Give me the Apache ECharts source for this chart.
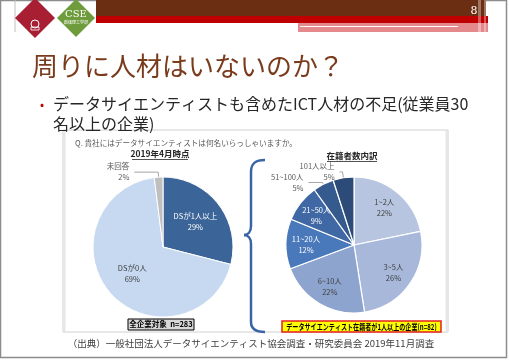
<!DOCTYPE html>
<html>
<head>
<meta charset="utf-8">
<script src="https://cdn.jsdelivr.net/npm/echarts@6/dist/echarts.min.js"></script>
<style>
html,body{margin:0;padding:0;background:#fff;}
#c{width:509px;height:360px;}
</style>
</head>
<body>
<div id="c"></div>
<script>
// ---- data ----
const leftCategories = ['DSが1人以上', 'DSが0人', '未回答'];
const leftValues = [29, 69, 2];
const rightCategories = ['1~2人', '3~5人', '6~10人', '11~20人', '21~50人', '51~100人', '101人以上'];
const rightValues = [22, 26, 22, 12, 9, 5, 5];
const leftColors = ['#3B6598', '#C6D9F0', '#BFBFBF'];
const rightColors = ['#B8C5E0', '#A7B8DA', '#8DA4CF', '#4A79BB', '#3F68A4', '#355A8E', '#2C4B78'];
const leftLabelColors = ['#ffffff', '#404040', '#595959'];
const rightLabelColors = ['#404040', '#404040', '#404040', '#ffffff', '#ffffff', '#595959', '#595959'];
const leftOutside = [false, false, true];
const rightOutside = [false, false, false, false, false, true, true];

const FONT = '"Noto Sans CJK JP", "Noto Sans", sans-serif';

const chart = echarts.init(document.getElementById('c'), null, {renderer: 'canvas'});

function mainData(cats, vals, colors, outside, lblColors, lineLens) {
  return cats.map((n, i) => ({
    name: n, value: vals[i],
    itemStyle: {color: colors[i]},
    label: outside[i] ? {show: true, position: 'outside', color: lblColors[i]} : {show: false},
    labelLine: outside[i] ? {show: true, length: lineLens[i][0], length2: lineLens[i][1]} : {show: false}
  }));
}
function labelData(cats, vals, outside, lblColors) {
  return cats.map((n, i) => ({
    name: n, value: vals[i],
    label: {show: !outside[i], color: lblColors[i]}
  }));
}
const lblStyle = {fontSize: 7.5, lineHeight: 11, fontFamily: FONT, formatter: '{b}\n{c}%'};

const LC = [163, 247], LR = 70;
const RC = [354, 245], RR = 68;

const BR = '#3B64A6';
function bz(x1, y1, c1x, c1y, c2x, c2y, x2, y2) {
  return {type: 'bezierCurve', z: 3, shape: {x1: x1, y1: y1, cpx1: c1x, cpy1: c1y, cpx2: c2x, cpy2: c2y, x2: x2, y2: y2}, style: {fill: 'none', stroke: BR, lineWidth: 2.5}};
}
function ln(x1, y1, x2, y2) {
  return {type: 'line', z: 3, shape: {x1: x1, y1: y1, x2: x2, y2: y2}, style: {stroke: BR, lineWidth: 2.5}};
}

const option = {
  backgroundColor: '#ffffff',
  animation: false,
  series: [
    {
      type: 'pie', center: LC, radius: [0, LR], startAngle: 90, clockwise: true,
      avoidLabelOverlap: false, silent: true, labelLayout: {hideOverlap: false},
      itemStyle: {borderColor: '#ffffff', borderWidth: 1},
      label: Object.assign({}, lblStyle),
      labelLine: {lineStyle: {color: '#A6A6A6', width: 1}},
      data: mainData(leftCategories, leftValues, leftColors, leftOutside, leftLabelColors, [[0,0],[0,0],[5,24]])
    },
    {
      type: 'pie', center: LC, radius: [6, LR], startAngle: 90, clockwise: true,
      avoidLabelOverlap: false, silent: true, labelLayout: {hideOverlap: false},
      itemStyle: {color: 'rgba(0,0,0,0)'},
      label: Object.assign({position: 'inside'}, lblStyle),
      labelLine: {show: false},
      data: labelData(leftCategories, leftValues, leftOutside, leftLabelColors)
    },
    {
      type: 'pie', center: RC, radius: [0, RR], startAngle: 90, clockwise: true,
      avoidLabelOverlap: false, silent: true, labelLayout: {hideOverlap: false},
      itemStyle: {borderColor: '#ffffff', borderWidth: 1.2},
      label: Object.assign({}, lblStyle),
      labelLine: {lineStyle: {color: '#A6A6A6', width: 1}},
      data: mainData(rightCategories, rightValues, rightColors, rightOutside, rightLabelColors, [[0,0],[0,0],[0,0],[0,0],[0,0],[2,14],[6,3]])
    },
    {
      type: 'pie', center: RC, radius: [22, RR], startAngle: 90, clockwise: true,
      avoidLabelOverlap: false, silent: true, labelLayout: {hideOverlap: false},
      itemStyle: {color: 'rgba(0,0,0,0)'},
      label: Object.assign({position: 'inside'}, lblStyle),
      labelLine: {show: false},
      data: labelData(rightCategories, rightValues, rightOutside, rightLabelColors)
    }
  ],
  graphic: [
    // slide frame
    {type: 'rect', z: 0, shape: {x: 0.5, y: 0.5, width: 506, height: 357}, style: {fill: 'none', stroke: '#8C8C8C', lineWidth: 1.5}},
    // header bars
    {type: 'rect', z: 1, shape: {x: 96, y: 0, width: 390, height: 16}, style: {fill: '#6B2E12'}},
    {type: 'rect', z: 1, shape: {x: 96, y: 16, width: 392, height: 7}, style: {fill: '#C00000'}},
    {type: 'rect', z: 1, shape: {x: 298, y: 23, width: 190, height: 9}, style: {fill: '#E58A8C'}},
    {type: 'line', z: 2, shape: {x1: 300, y1: 26.5, x2: 458, y2: 26.5}, style: {stroke: '#ffffff', lineWidth: 1.2}},
    {type: 'rect', z: 2, shape: {x: 478, y: 0, width: 3, height: 32}, style: {fill: 'rgba(255,255,255,0.35)'}},
    {type: 'rect', z: 2, shape: {x: 484, y: 0, width: 2, height: 32}, style: {fill: 'rgba(255,255,255,0.35)'}},
    {type: 'text', z: 3, style: {text: '8', x: 474, y: 11, fill: '#ffffff', font: '11px "DejaVu Serif", serif', textAlign: 'center', textVerticalAlign: 'middle'}},
    // logos
    {type: 'line', z: 1, shape: {x1: 15, y1: 0, x2: 15, y2: 32}, style: {stroke: '#BFBFBF', lineWidth: 1}},
    {type: 'polygon', z: 2, shape: {points: [[35, -2], [55, 18], [35, 38], [15, 18]]}, style: {fill: '#A81E32'}},
    {type: 'circle', z: 3, shape: {cx: 35, cy: 24, r: 4}, style: {fill: 'none', stroke: '#ffffff', lineWidth: 1}},
    {type: 'rect', z: 3, shape: {x: 31, y: 27, width: 8, height: 3}, style: {fill: 'none', stroke: '#ffffff', lineWidth: 0.8}},
    {type: 'polygon', z: 2, shape: {points: [[76, -1], [95, 18], [76, 37], [57, 18]]}, style: {fill: '#6E9C3C'}},
    {type: 'text', z: 3, style: {text: 'CSE', x: 76, y: 14, fill: '#ffffff', font: '10px "DejaVu Serif", serif', textAlign: 'center', textVerticalAlign: 'middle'}},
    {type: 'text', z: 3, style: {text: '創価理工学部', x: 76, y: 22.5, fill: '#ffffff', font: '4px "Noto Sans CJK JP", sans-serif', textAlign: 'center', textVerticalAlign: 'middle'}},
    // title
    {type: 'text', z: 3, style: {text: '周りに人材はいないのか？', x: 32, y: 66, fill: '#7A3B1C', font: '26px ' + FONT, textVerticalAlign: 'middle'}},
    // bullet
    {type: 'text', z: 3, style: {text: '•', x: 42, y: 104, fill: '#C00000', font: '12px ' + FONT, textAlign: 'center', textVerticalAlign: 'middle'}},
    {type: 'text', z: 3, style: {text: 'データサイエンティストも含めたICT人材の不足(従業員30', x: 53, y: 104, fill: '#262626', font: '16px ' + FONT, textVerticalAlign: 'middle'}},
    {type: 'text', z: 3, style: {text: '名以上の企業)', x: 53, y: 124, fill: '#262626', font: '16px ' + FONT, textVerticalAlign: 'middle'}},
    // figure box
    {type: 'rect', z: 0, shape: {x: 63, y: 130, width: 385, height: 202}, style: {fill: '#ffffff', stroke: '#D0D0D0', lineWidth: 1}},
    {type: 'line', z: 1, shape: {x1: 64.5, y1: 131, x2: 64.5, y2: 332}, style: {stroke: '#E6E6E6', lineWidth: 2}},
    {type: 'line', z: 1, shape: {x1: 446.5, y1: 131, x2: 446.5, y2: 332}, style: {stroke: '#E6E6E6', lineWidth: 2}},
    {type: 'text', z: 3, style: {text: 'Q. 貴社にはデータサイエンティストは何名いらっしゃいますか。', x: 75, y: 143, fill: '#595959', font: '7.6px ' + FONT, textVerticalAlign: 'middle'}},
    {type: 'text', z: 3, style: {text: '2019年4月時点', x: 160, y: 154, fill: '#262626', font: 'bold 8.5px ' + FONT, textAlign: 'center', textVerticalAlign: 'middle'}},
    {type: 'line', z: 3, shape: {x1: 132, y1: 159.5, x2: 188, y2: 159.5}, style: {stroke: '#262626', lineWidth: 0.8}},
    {type: 'text', z: 3, style: {text: '在籍者数内訳', x: 352, y: 156, fill: '#262626', font: 'bold 8.5px ' + FONT, textAlign: 'center', textVerticalAlign: 'middle'}},
    {type: 'line', z: 3, shape: {x1: 327, y1: 161.5, x2: 377, y2: 161.5}, style: {stroke: '#262626', lineWidth: 0.8}},
    // brace
    bz(265, 160, 256, 160, 251, 163, 251, 172),
    ln(251, 172, 251, 226),
    bz(251, 226, 251, 232, 248, 235, 244, 235),
    bz(244, 235, 248, 235, 251, 238, 251, 244),
    ln(251, 244, 251, 322),
    bz(251, 322, 251, 329, 256, 332, 265, 332),
    // bottom boxes
    {type: 'rect', z: 3, shape: {x: 128, y: 319, width: 66, height: 11}, style: {fill: '#D9D9D9', stroke: '#000000', lineWidth: 1}},
    {type: 'text', z: 4, style: {text: '全企業対象  n=283', x: 161, y: 324.5, fill: '#000000', font: 'bold 7.5px ' + FONT, textAlign: 'center', textVerticalAlign: 'middle'}},
    {type: 'rect', z: 3, shape: {x: 282, y: 321, width: 159, height: 11}, style: {fill: '#FFFF00', stroke: '#E52020', lineWidth: 1.5}},
    {type: 'text', z: 4, x: 361.5, y: 326.5, scaleX: 0.76, scaleY: 1, style: {text: 'データサイエンティスト在籍者が1人以上の企業(n=82)', x: 0, y: 0, fill: '#000000', font: 'bold 8px ' + FONT, textAlign: 'center', textVerticalAlign: 'middle'}},
    // source
    {type: 'text', z: 3, style: {text: '（出典）一般社団法人データサイエンティスト協会調査・研究委員会 2019年11月調査', x: 251, y: 343, fill: '#404040', font: '9.5px ' + FONT, textAlign: 'center', textVerticalAlign: 'middle'}}
  ]
};
chart.setOption(option);
</script>
</body>
</html>
